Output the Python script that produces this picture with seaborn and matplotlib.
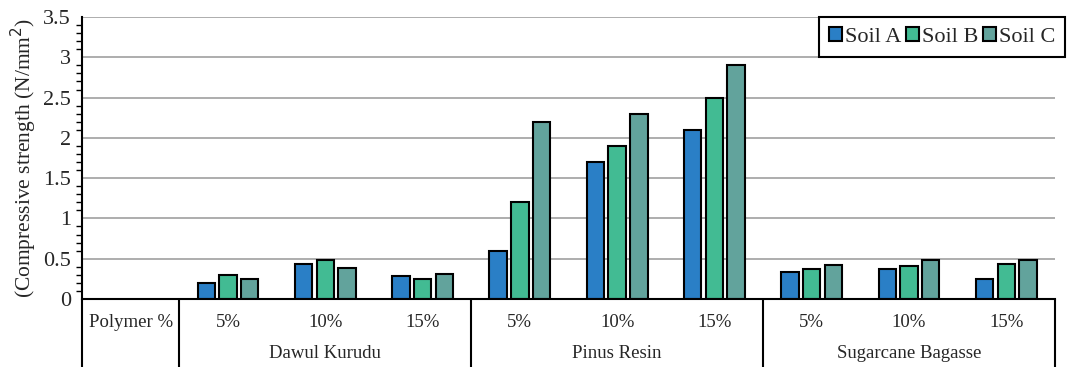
import matplotlib
matplotlib.use("Agg")
import matplotlib.pyplot as plt
import matplotlib.transforms as mtransforms
from matplotlib.ticker import MultipleLocator
import numpy as np
import pandas as pd
import seaborn as sns

# Data
materials = ["Dawul Kurudu", "Pinus Resin", "Sugarcane Bagasse"]
dosages = ["5%", "10%", "15%"]
soils = ["Soil A", "Soil B", "Soil C"]
soil_a = [0.20, 0.44, 0.29, 0.60, 1.70, 2.10, 0.34, 0.37, 0.25]
soil_b = [0.30, 0.48, 0.25, 1.20, 1.90, 2.50, 0.37, 0.41, 0.43]
soil_c = [0.25, 0.39, 0.31, 2.20, 2.30, 2.90, 0.42, 0.48, 0.49]
colors = ["#2a7fc6", "#42bb93", "#62a39c"]

# Slot 0 is the "Polymer %" header column; slots 1..9 hold the bar groups
rows = []
for soil, vals in zip(soils, [soil_a, soil_b, soil_c]):
    for i, v in enumerate(vals):
        rows.append({"slot": i + 1, "soil": soil, "value": v})
df = pd.DataFrame(rows)

sns.set_style("white")
plt.rcParams["font.family"] = ["Liberation Serif", "DejaVu Serif"]

fig = plt.figure(figsize=(10.67, 3.67), dpi=100)
W, H = 1067, 367
ax = fig.add_axes([82 / W, (H - 299) / H, 973 / W, 282 / H])

sns.barplot(data=df, x="slot", y="value", hue="soil", order=list(range(10)),
            hue_order=soils, palette=colors, saturation=1, width=0.67, gap=0.2,
            edgecolor="black", linewidth=1.5, ax=ax, legend=True)

ax.set_xlim(-0.5, 9.5)
ax.set_ylim(0, 3.5)
ax.yaxis.set_major_locator(MultipleLocator(0.5))
ax.yaxis.set_minor_locator(MultipleLocator(0.1))
ax.set_yticks(np.arange(0, 3.51, 0.5))
ax.set_yticklabels(["0", "0.5", "1", "1.5", "2", "2.5", "3", "3.5"], fontsize=16)
ax.tick_params(axis="y", which="major", direction="out", length=6, width=1.2,
               color="black", pad=2)
ax.tick_params(axis="y", which="minor", direction="out", length=4, width=1.0,
               color="black", left=True)
ax.set_xticks([])
ax.set_xlabel("")
ax.set_ylabel("(Compressive strength (N/mm$^2$)", fontsize=15.5, labelpad=3)

ax.grid(axis="y", color="#a0a0a0", linewidth=1.2)
ax.set_axisbelow(True)
for side in ["top", "right"]:
    ax.spines[side].set_visible(False)
ax.spines["left"].set_color("black")
ax.spines["left"].set_linewidth(1.5)
ax.spines["bottom"].set_color("black")
ax.spines["bottom"].set_linewidth(1.5)

# Category table below the axis
trans = mtransforms.blended_transform_factory(ax.transData, ax.transAxes)
for xb in [-0.5, 0.5, 3.5, 6.5, 9.5]:
    ax.plot([xb, xb], [0, -0.3], transform=trans, color="black", lw=1.5,
            clip_on=False, solid_capstyle="butt")
ax.text(0, -0.082, "Polymer %", transform=trans, ha="center", va="center", fontsize=13.5)
for g, name in enumerate(materials):
    for d, lab in enumerate(dosages):
        ax.text(1 + 3 * g + d, -0.082, lab, transform=trans, ha="center",
                va="center", fontsize=13.5)
    ax.text(2 + 3 * g, -0.195, name, transform=trans, ha="center",
            va="center", fontsize=13.5)

leg = ax.legend(loc="upper right", bbox_to_anchor=(1.0103, 1.0), ncol=3,
                fontsize=16, frameon=True, fancybox=False, borderaxespad=0,
                handlelength=0.6, handleheight=0.6, handletextpad=0.12,
                columnspacing=0.2, borderpad=0.45)
leg.get_frame().set_edgecolor("black")
leg.get_frame().set_linewidth(1.5)
leg.get_frame().set_alpha(1)

fig.savefig("out.png", dpi=100)
